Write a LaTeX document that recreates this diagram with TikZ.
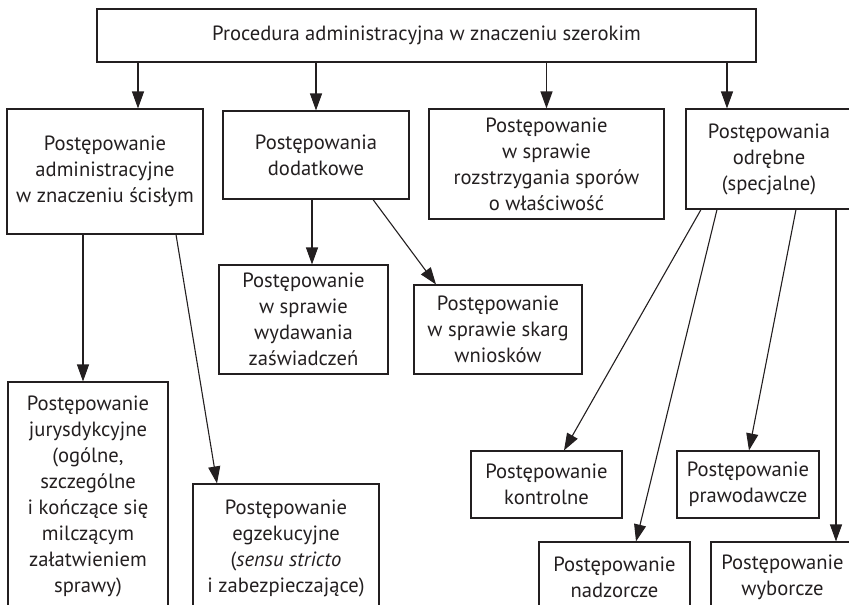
\documentclass[tikz,border=0pt]{standalone}
\usepackage{fontspec}
\setmainfont{PT Sans}
\usetikzlibrary{arrows.meta}
\definecolor{ink}{HTML}{231F20}

\begin{document}
\begin{tikzpicture}[x=1pt, y=-1pt,
  font=\fontsize{20.6}{26}\selectfont, ink,
  box/.style={draw=ink, line width=1.1pt, align=center, inner sep=0pt},
  arr/.style={-{Triangle[length=17pt, width=12pt]}, line width=1.1pt, ink}]
  \clip (0,0) rectangle (849,605);
  \node[box, minimum width=659pt, minimum height=53pt] (top) at (426.5,35.5) {Procedura administracyjna w znaczeniu szerokim};
  \node[box, minimum width=196pt, minimum height=125pt] (adm) at (105,171.5) {Postępowanie\\administracyjne\\w znaczeniu ścisłym};
  \node[box, minimum width=186pt, minimum height=88pt] (dod) at (316,155) {Postępowania\\dodatkowe};
  \node[box, minimum width=235pt, minimum height=110pt] (spor) at (546.5,164) {Postępowanie\\w sprawie\\rozstrzygania sporów\\o właściwość};
  \node[box, minimum width=166pt, minimum height=100pt] (odr) at (769,159) {Postępowania\\odrębne\\(specjalne)};
  \node[box, minimum width=169pt, minimum height=109pt] (zasw) at (303.5,319.5) {Postępowanie\\w sprawie\\wydawania\\zaświadczeń};
  \node[box, minimum width=168pt, minimum height=89pt] (skarg) at (498,329.5) {Postępowanie\\w sprawie skarg\\wniosków};
  \node[box, minimum width=160pt, minimum height=228pt] (jur) at (88,496) {Postępowanie\\jurysdykcyjne\\(ogólne,\\szczególne\\i kończące się\\milczącym\\załatwieniem\\sprawy)};
  \node[box, minimum width=186pt, minimum height=128pt] (egz) at (286,548) {Postępowanie\\egzekucyjne\\(\textit{sensu stricto}\\i zabezpieczające)};
  \node[box, minimum width=151pt, minimum height=67pt] (kontr) at (546.5,484.5) {Postępowanie\\kontrolne};
  \node[box, minimum width=142pt, minimum height=67pt] (praw) at (748,484.5) {Postępowanie\\prawodawcze};
  \node[box, minimum width=151pt, minimum height=70pt] (nadz) at (614.5,577) {Postępowanie\\nadzorcze};
  \node[box, minimum width=143pt, minimum height=70pt] (wyb) at (782.5,577) {Postępowanie\\wyborcze};
  % first level
  \draw[arr] ([xshift=33pt]adm.north |- top.south) -- ([xshift=33pt]adm.north);
  \draw[arr] (dod.north |- top.south) -- (dod.north);
  \draw[arr] (spor.north |- top.south) -- (spor.north);
  \draw[arr] ([xshift=-42pt]odr.north |- top.south) -- ([xshift=-42pt]odr.north);
  % second level
  \draw[arr] ([xshift=-22pt]adm.south) -- ([xshift=-22pt]adm.south |- jur.north);
  \draw[arr] ([xshift=71pt]adm.south) -- ([xshift=-69pt]egz.north);
  \draw[arr] ([xshift=-4pt]dod.south) -- ([xshift=-4pt]dod.south |- zasw.north);
  \draw[arr] ([xshift=57pt]dod.south) -- ([xshift=-62pt]skarg.north);
  \draw[arr] ([xshift=-68pt]odr.south) -- ([xshift=17.5pt]kontr.north);
  \draw[arr] ([xshift=-52pt]odr.south) -- ([xshift=21.5pt]nadz.north);
  \draw[arr] ([xshift=27pt]odr.south) -- ([xshift=1pt]praw.north);
  \draw[arr] ([xshift=67pt]odr.south) -- ([xshift=67pt]odr.south |- wyb.north);
\end{tikzpicture}
\end{document}
